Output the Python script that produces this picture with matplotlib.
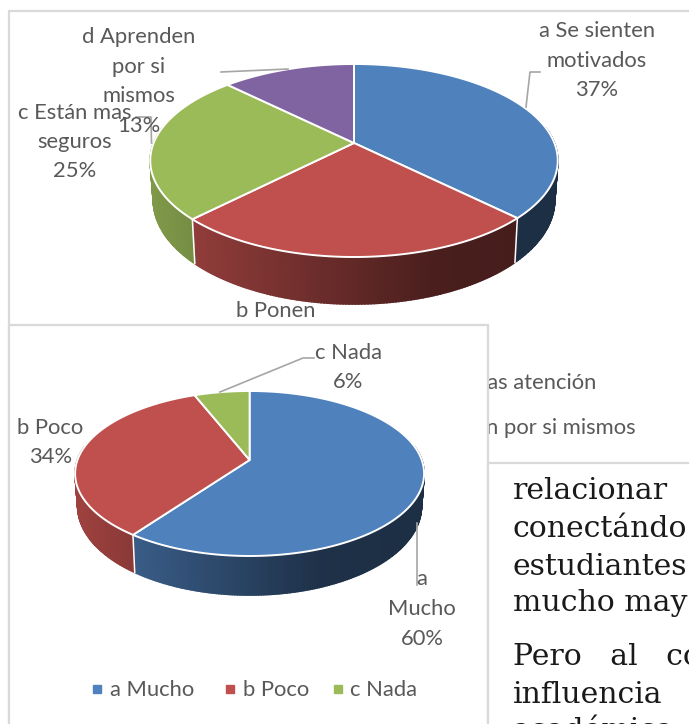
import numpy as np
import matplotlib
matplotlib.use("Agg")
import matplotlib.pyplot as plt
from matplotlib.patches import Polygon, Rectangle

# top chart
TOP_VALUES = [37.4, 25.0, 25.0, 12.6]
# bottom chart
BOTTOM_VALUES = [60, 34, 6]
BOTTOM_LEGEND = ["a Mucho", "b Poco", "c Nada"]

BLUE = "#4f81bd"
RED = "#c0504d"
GREEN = "#9bbb59"
PURPLE = "#8064a2"
TEXT_COLOR = "#595959"
FRAME_COLOR = "#d9d9d9"
LEADER_COLOR = "#a6a6a6"
LABEL_FONT = "Lato"
LABEL_SIZE = 15.8


def shade(color, frac):
    # side of the pie gets darker from left to right
    k = np.interp(frac, [0, 0.7, 1], [0.82, 0.38, 0.36])
    return tuple(c * k for c in matplotlib.colors.to_rgb(color))


def draw_pie(ax, values, colors, cx, cy, left, right, top, bottom, depth):
    t = cy - top
    b = bottom - cy
    c = (b - t) / (b + t)
    a = t * (1 + c)
    rx = (right - left) / 2
    ax_x = rx * np.sqrt(1 - c ** 2)

    def rim(deg):
        u = np.sin(np.radians(deg))
        v = np.cos(np.radians(deg))
        return cx + ax_x * u / (1 + c * v), cy - a * v / (1 + c * v)

    def low(deg):
        x, y = rim(deg)
        v = np.cos(np.radians(deg))
        return cx + (x - cx) * 0.985, y + depth * (0.8 - 0.2 * v)

    edges = np.cumsum([0] + list(values)) / sum(values) * 360

    # side walls first
    for i, color in enumerate(colors):
        th1 = max(edges[i], 80)
        th2 = min(edges[i + 1], 280)
        if th2 <= th1:
            continue
        steps = np.arange(th1, th2 + 0.75, 0.75)
        steps[-1] = th2
        for d1, d2 in zip(steps[:-1], steps[1:]):
            x1, y1 = rim(d1)
            x2, y2 = rim(d2)
            x3, y3 = low(d2)
            x4, y4 = low(d1)
            col = shade(color, ((x1 + x2) / 2 - left) / (right - left))
            ax.add_patch(Polygon([(x1, y1), (x2, y2), (x3, y3), (x4, y4)],
                                 facecolor=col, edgecolor=col, linewidth=1.2))
    for e in edges:
        if 100 < e < 260:
            ax.plot([rim(e)[0], low(e)[0]], [rim(e)[1], low(e)[1]],
                    color="white", linewidth=1.1, zorder=1.5)

    # top face
    for i, color in enumerate(colors):
        deg = np.linspace(edges[i], edges[i + 1], 150)
        pts = [(cx, cy)] + [rim(d) for d in deg]
        ax.add_patch(Polygon(pts, facecolor=color, edgecolor="white",
                             linewidth=1.4, joinstyle="round", zorder=1.8))


def label(ax, x, ys, lines):
    for y, line in zip(ys, lines):
        ax.text(x, y, line, ha="center", va="center", color=TEXT_COLOR,
                fontsize=LABEL_SIZE, family=LABEL_FONT)


def pixel_axes(fig):
    ax = fig.add_axes([0, 0, 1, 1])
    ax.set_xlim(0, 689)
    ax.set_ylim(724, 0)
    ax.axis("off")
    return ax


fig = plt.figure(figsize=(6.89, 7.24), dpi=100)
ax = pixel_axes(fig)

# frame of the top chart
ax.plot([9, 9, 689], [724, 11, 11], color=FRAME_COLOR, linewidth=1.6)

draw_pie(ax, TOP_VALUES, [BLUE, RED, GREEN, PURPLE],
         354, 143, 149.5, 557, 64, 257, 47)

ax.plot([526, 530, 540], [107, 72, 72], color=LEADER_COLOR, linewidth=1.2)
ax.plot([221, 288], [72, 69], color=LEADER_COLOR, linewidth=1.2)
ax.plot([151.5, 151, 136], [143, 117, 117], color=LEADER_COLOR, linewidth=1.2)

label(ax, 597, [31, 61, 90], ["a Se sienten", "motivados", "37%"])
label(ax, 138.5, [37, 67, 96, 126], ["d Aprenden", "por si", "mismos", "13%"])
label(ax, 75, [113, 142, 171], ["c Están mas", "seguros", "25%"])
label(ax, 275.5, [311], ["b Ponen"])

# legend of the top chart, mostly behind the lower chart
ax.text(596, 383, "b Ponen mas atención", ha="right", va="center",
        color=TEXT_COLOR, fontsize=LABEL_SIZE, family=LABEL_FONT)
ax.text(636, 428, "d Aprenden por si mismos", ha="right", va="center",
        color=TEXT_COLOR, fontsize=LABEL_SIZE, family=LABEL_FONT)

# lower chart and page text sit on top of the first chart
ax2 = pixel_axes(fig)
ax2.add_patch(Rectangle((9, 325), 479, 410, facecolor="white",
                        edgecolor=FRAME_COLOR, linewidth=1.6))
ax2.add_patch(Rectangle((488, 463), 210, 270, facecolor="white",
                        edgecolor=FRAME_COLOR, linewidth=1.6))

draw_pie(ax2, BOTTOM_VALUES, [BLUE, RED, GREEN],
         249.6, 460, 75.5, 424.5, 391, 556, 39)

ax2.plot([220, 303, 314], [392, 358, 358], color=LEADER_COLOR, linewidth=1.2)
ax2.plot([416.5, 416.5], [523, 585], color=LEADER_COLOR, linewidth=1.2)

label(ax2, 348.5, [353, 382], ["c Nada", "6%"])
label(ax2, 50.5, [428, 457], ["b Poco", "34%"])
label(ax2, 422, [579, 609, 639], ["a", "Mucho", "60%"])

# legend of the lower chart
for x, name, color in zip([97, 230, 337.5], BOTTOM_LEGEND, [BLUE, RED, GREEN]):
    ax2.plot([x], [689], marker="s", markersize=6, color=color, linestyle="none")
    ax2.text(x + 13, 690, name, ha="left", va="center", color=TEXT_COLOR,
             fontsize=LABEL_SIZE, family=LABEL_FONT)

# body text of the page
body = [(491, "relacionar"), (529, "conectándo"), (567, "estudiantes"),
        (603, "mucho may"), (657, "Pero   al   co"), (695, "influencia"),
        (731, "académica")]
for y, line in body:
    ax2.text(513, y, line, ha="left", va="center", color="#1a1a1a",
             fontsize=21.5, family="DejaVu Serif")

fig.savefig("out.png", dpi=100)
